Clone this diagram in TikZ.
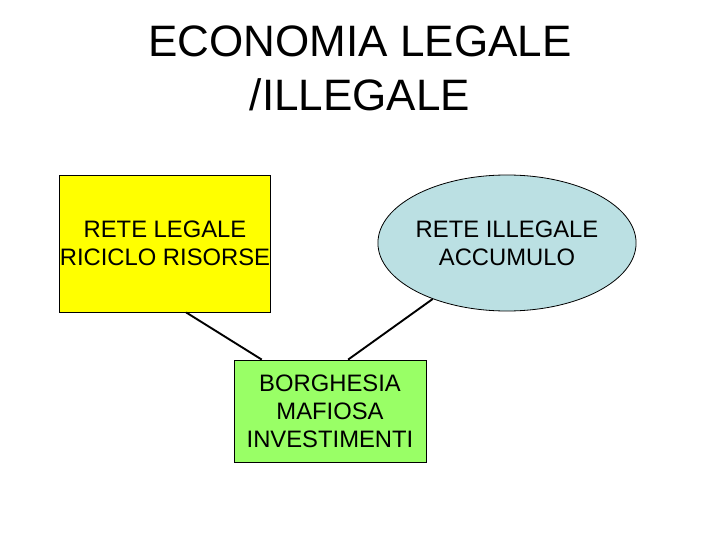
\documentclass[tikz,border=0pt]{standalone}
\usepackage{fontspec}
\setmainfont{Liberation Sans}
\usetikzlibrary{shapes.geometric,calc}
\definecolor{ecoYellow}{RGB}{255,255,0}
\definecolor{ecoBlue}{RGB}{187,224,227}
\definecolor{ecoGreen}{RGB}{153,255,102}

\begin{document}
\begin{tikzpicture}[x=1pt, y=-1pt,
  box/.style={draw=black, line width=0.8pt, align=center, inner sep=0pt,
    font=\fontsize{23.8}{28}\selectfont},
  link/.style={draw=black, line width=1.9pt}]
\useasboundingbox (0,0) rectangle (720,540);
%% Title
\node[align=center, font=\fontsize{44}{54}\selectfont] (title) at (360,68)
  {ECONOMIA LEGALE\\/ILLEGALE};
%% The three networks
\node[box, fill=ecoYellow, minimum width=210, minimum height=137] (legale) at (165,243.5)
  {RETE LEGALE\\RICICLO RISORSE};
\node[box, ellipse, fill=ecoBlue, minimum width=258, minimum height=136] (illegale) at (507,243)
  {RETE ILLEGALE\\ACCUMULO};
\node[box, fill=ecoGreen, minimum width=192, minimum height=102] (borghesia) at (330,411)
  {BORGHESIA\\MAFIOSA\\INVESTIMENTI};
%% Links down to the bourgeoisie
\draw[link] ($(legale.south west)!0.6!(legale.south east)$)
  -- ($(borghesia.north west)!0.146!(borghesia.north east)$);
\draw[link] (illegale.217)
  -- ($(borghesia.north west)!0.594!(borghesia.north east)$);
\end{tikzpicture}
\end{document}
